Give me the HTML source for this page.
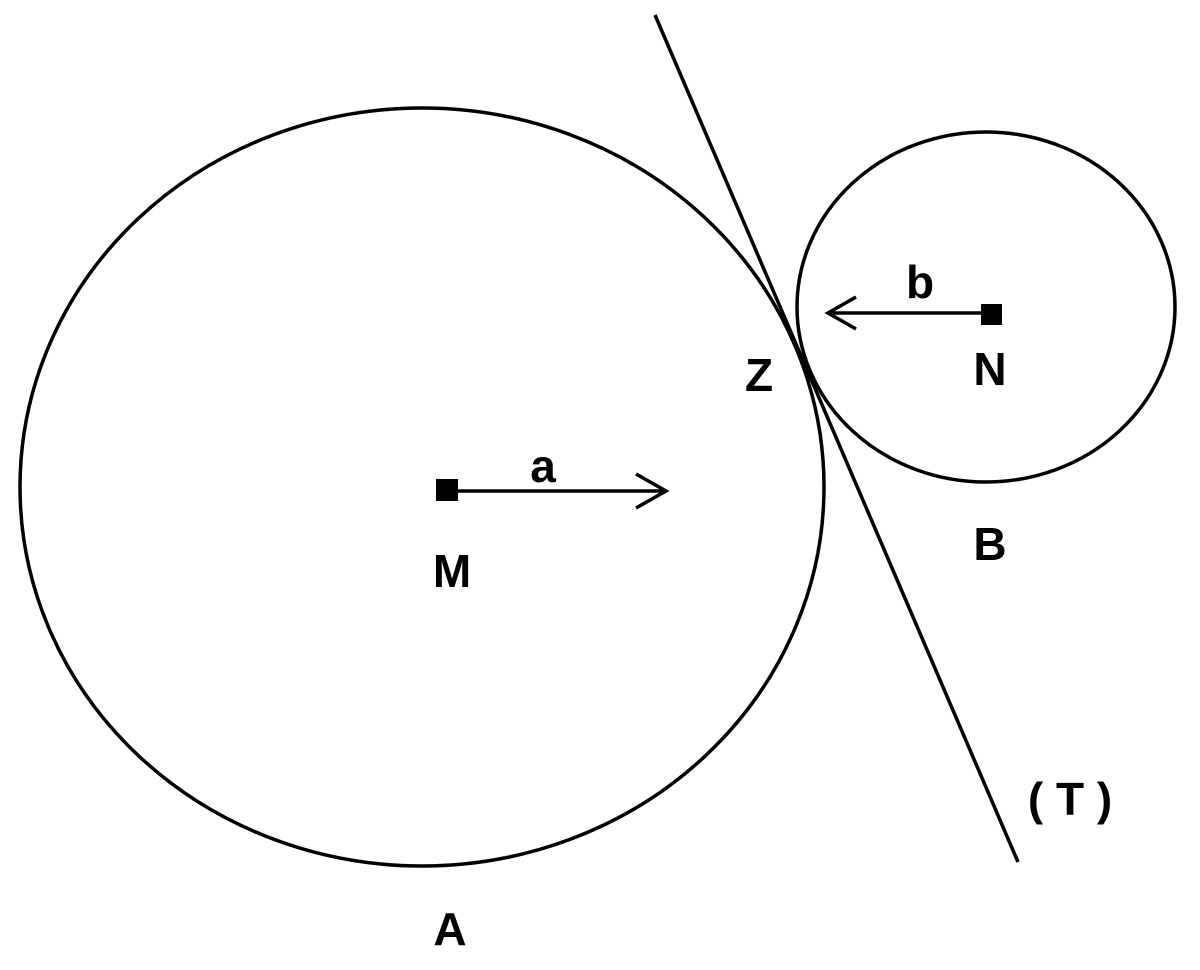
<!DOCTYPE html>
<html><head><meta charset="utf-8"><style>
html,body{margin:0;padding:0;background:#fff;}
svg text{font-family:"Liberation Sans",sans-serif;font-weight:bold;font-size:46px;fill:#000;text-anchor:middle;}
</style></head><body>
<svg width="1200" height="965" viewBox="0 0 1200 965" xmlns="http://www.w3.org/2000/svg">
<g fill="none" stroke="#000" stroke-width="3.5">
<ellipse cx="422" cy="487" rx="402" ry="379"/>
<ellipse cx="986" cy="307" rx="189" ry="175"/>
<line x1="655" y1="15" x2="1018" y2="862"/>
<line x1="446" y1="491" x2="666" y2="491"/>
<polyline points="636,474 666,491 636,508"/>
<line x1="991" y1="313" x2="828" y2="313"/>
<polyline points="856,297 828,313 856,329"/>
</g>
<rect x="436" y="479" width="22" height="22" fill="#000"/>
<rect x="981" y="304" width="21" height="21" fill="#000"/>
<text x="543" y="482">a</text>
<text x="452" y="587">M</text>
<text x="759" y="391">Z</text>
<text x="920" y="298">b</text>
<text x="990" y="385">N</text>
<text x="990" y="560">B</text>
<text x="450" y="945">A</text>
<text x="1070" y="815">( T )</text>
</svg>
</body></html>
